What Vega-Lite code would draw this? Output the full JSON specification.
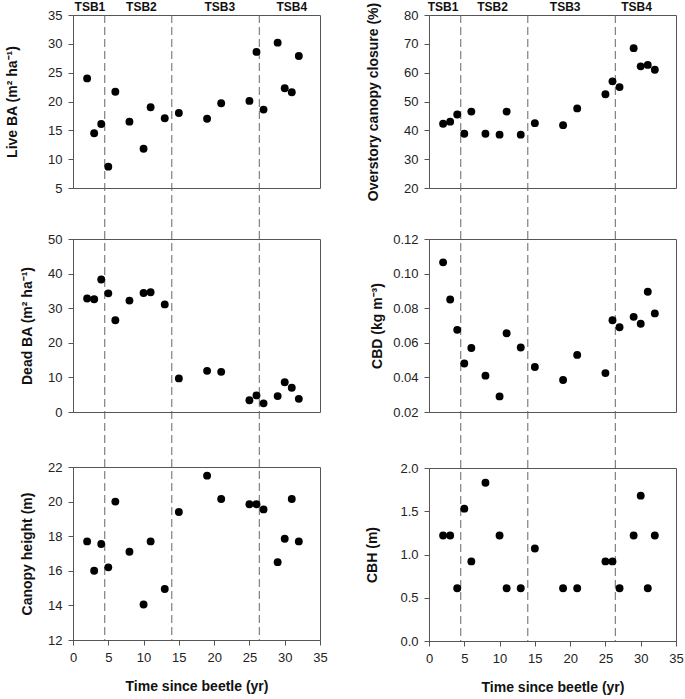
{
  "$schema": "https://vega.github.io/schema/vega-lite/v6.json",
  "background": "white",
  "padding": {"left": 5, "top": 0, "right": 5, "bottom": 5},
  "config": {
    "font": "Liberation Sans",
    "view": {"stroke": "#555", "strokeWidth": 1},
    "axis": {"labelFont": "Liberation Sans", "labelFontSize": 13, "labelColor": "#222", "titleFont": "Liberation Sans", "titleFontSize": 14, "titleFontWeight": "bold", "titleColor": "#111", "domainColor": "#555", "tickColor": "#555", "tickSize": 5, "grid": false, "labelPadding": 6, "labelFlush": false, "labelOverlap": false},
    "point": {"filled": true, "color": "black", "size": 62, "opacity": 1},
    "rule": {"strokeDash": [8, 4], "color": "#666", "strokeWidth": 1}
  },
  "datasets": {
    "d": [
      {"t": 2, "live": 24.0, "closure": 42.3, "dead": 32.8, "cbd": 0.1065, "height": 17.7, "cbh": 1.22},
      {"t": 3, "live": 14.5, "closure": 43.0, "dead": 32.6, "cbd": 0.085, "height": 16.0, "cbh": 1.22},
      {"t": 4, "live": 16.1, "closure": 45.5, "dead": 38.3, "cbd": 0.0675, "height": 17.55, "cbh": 0.61},
      {"t": 5, "live": 8.7, "closure": 38.8, "dead": 34.3, "cbd": 0.048, "height": 16.2, "cbh": 1.53},
      {"t": 6, "live": 21.7, "closure": 46.5, "dead": 26.5, "cbd": 0.057, "height": 20.0, "cbh": 0.92},
      {"t": 8, "live": 16.5, "closure": 38.8, "dead": 32.2, "cbd": 0.041, "height": 17.1, "cbh": 1.83},
      {"t": 10, "live": 11.8, "closure": 38.5, "dead": 34.4, "cbd": 0.029, "height": 14.05, "cbh": 1.22},
      {"t": 11, "live": 19.0, "closure": 46.5, "dead": 34.6, "cbd": 0.0655, "height": 17.7, "cbh": 0.61},
      {"t": 13, "live": 17.1, "closure": 38.5, "dead": 31.1, "cbd": 0.0573, "height": 14.95, "cbh": 0.61},
      {"t": 15, "live": 18.0, "closure": 42.5, "dead": 9.7, "cbd": 0.046, "height": 19.4, "cbh": 1.07},
      {"t": 19, "live": 17.0, "closure": 41.8, "dead": 11.9, "cbd": 0.0385, "height": 21.5, "cbh": 0.61},
      {"t": 21, "live": 19.7, "closure": 47.6, "dead": 11.6, "cbd": 0.053, "height": 20.15, "cbh": 0.61},
      {"t": 25, "live": 20.1, "closure": 52.5, "dead": 3.4, "cbd": 0.0425, "height": 19.85, "cbh": 0.92},
      {"t": 26, "live": 28.6, "closure": 57.0, "dead": 4.8, "cbd": 0.073, "height": 19.85, "cbh": 0.92},
      {"t": 27, "live": 18.6, "closure": 55.0, "dead": 2.5, "cbd": 0.069, "height": 19.55, "cbh": 0.61},
      {"t": 29, "live": 30.2, "closure": 68.5, "dead": 4.6, "cbd": 0.075, "height": 16.5, "cbh": 1.22},
      {"t": 30, "live": 22.3, "closure": 62.2, "dead": 8.6, "cbd": 0.071, "height": 17.85, "cbh": 1.68},
      {"t": 31, "live": 21.6, "closure": 62.7, "dead": 7.0, "cbd": 0.0895, "height": 20.15, "cbh": 0.61},
      {"t": 32, "live": 27.9, "closure": 61.0, "dead": 3.8, "cbd": 0.077, "height": 17.7, "cbh": 1.22}
    ],
    "lines": [{"t": 4.5}, {"t": 14.0}, {"t": 26.4}],
    "tsbL": [{"t": 2.4, "label": "TSB1"}, {"t": 9.7, "label": "TSB2"}, {"t": 20.8, "label": "TSB3"}, {"t": 31.0, "label": "TSB4"}],
    "tsbR": [{"t": 2.0, "label": "TSB1"}, {"t": 9.0, "label": "TSB2"}, {"t": 19.3, "label": "TSB3"}, {"t": 29.4, "label": "TSB4"}]
  },
  "spacing": 37,
  "hconcat": [
    {
      "spacing": 0,
      "vconcat": [
        {
          "width": 247, "height": 173,
          "encoding": {"x": {"field": "t", "type": "quantitative", "scale": {"domain": [0, 35], "nice": false}, "axis": null}},
          "layer": [
            {"data": {"name": "lines"}, "mark": {"type": "rule", "clip": false}, "encoding": {"y": {"datum": 35, "type": "quantitative", "axis": {"values": [5, 10, 15, 20, 25, 30, 35], "labelOverlap": false, "title": "Live BA (m² ha⁻¹)", "titlePadding": 28}}, "y2": {"datum": -2.02}}},
            {"data": {"name": "tsbL"}, "mark": {"type": "text", "fontWeight": "bold", "fontSize": 12, "color": "#111", "font": "Liberation Sans", "baseline": "middle"}, "encoding": {"y": {"datum": 36.4, "type": "quantitative", "axis": {"values": [5, 10, 15, 20, 25, 30, 35], "labelOverlap": false, "title": "Live BA (m² ha⁻¹)", "titlePadding": 28}}, "text": {"field": "label"}}},
            {"data": {"name": "d"}, "mark": {"type": "point"}, "encoding": {"y": {"field": "live", "type": "quantitative", "scale": {"domain": [5, 35], "nice": false, "zero": false}, "axis": {"values": [5, 10, 15, 20, 25, 30, 35], "labelOverlap": false, "title": "Live BA (m² ha⁻¹)", "titlePadding": 28}}}}
          ]
        },
        {
          "width": 247, "height": 173,
          "encoding": {"x": {"field": "t", "type": "quantitative", "scale": {"domain": [0, 35], "nice": false}, "axis": null}},
          "layer": [
            {"data": {"name": "lines"}, "mark": {"type": "rule", "clip": false}, "encoding": {"y": {"datum": 52.31, "type": "quantitative", "axis": {"values": [0, 10, 20, 30, 40, 50], "labelOverlap": false, "title": "Dead BA (m² ha⁻¹)", "titlePadding": 13}}, "y2": {"datum": -13.0}}},
            {"data": {"name": "d"}, "mark": {"type": "point"}, "encoding": {"y": {"field": "dead", "type": "quantitative", "scale": {"domain": [0, 50], "nice": false}, "axis": {"values": [0, 10, 20, 30, 40, 50], "labelOverlap": false, "title": "Dead BA (m² ha⁻¹)", "titlePadding": 13}}}}
          ]
        },
        {
          "width": 247, "height": 173,
          "encoding": {"x": {"field": "t", "type": "quantitative", "scale": {"domain": [0, 35], "nice": false}, "axis": {"values": [0, 5, 10, 15, 20, 25, 30, 35], "labelOverlap": false, "title": "Time since beetle (yr)", "titlePadding": 15}}},
          "layer": [
            {"data": {"name": "lines"}, "mark": {"type": "rule", "clip": false}, "encoding": {"y": {"datum": 22.46, "type": "quantitative", "axis": {"values": [12, 14, 16, 18, 20, 22], "labelOverlap": false, "title": "Canopy height (m)", "titlePadding": 13}}, "y2": {"datum": 12}}},
            {"data": {"name": "d"}, "mark": {"type": "point"}, "encoding": {"y": {"field": "height", "type": "quantitative", "scale": {"domain": [12, 22], "nice": false, "zero": false}, "axis": {"values": [12, 14, 16, 18, 20, 22], "labelOverlap": false, "title": "Canopy height (m)", "titlePadding": 13}}}}
          ]
        }
      ]
    },
    {
      "spacing": 0,
      "vconcat": [
        {
          "width": 247, "height": 173,
          "encoding": {"x": {"field": "t", "type": "quantitative", "scale": {"domain": [0, 35], "nice": false}, "axis": null}},
          "layer": [
            {"data": {"name": "lines"}, "mark": {"type": "rule", "clip": false}, "encoding": {"y": {"datum": 80, "type": "quantitative", "axis": {"values": [20, 30, 40, 50, 60, 70, 80], "labelOverlap": false, "title": "Overstory canopy closure (%)", "titlePadding": 23}}, "y2": {"datum": 5.95}}},
            {"data": {"name": "tsbR"}, "mark": {"type": "text", "fontWeight": "bold", "fontSize": 12, "color": "#111", "font": "Liberation Sans", "baseline": "middle"}, "encoding": {"y": {"datum": 82.75, "type": "quantitative", "axis": {"values": [20, 30, 40, 50, 60, 70, 80], "labelOverlap": false, "title": "Overstory canopy closure (%)", "titlePadding": 23}}, "text": {"field": "label"}}},
            {"data": {"name": "d"}, "mark": {"type": "point"}, "encoding": {"y": {"field": "closure", "type": "quantitative", "scale": {"domain": [20, 80], "nice": false, "zero": false}, "axis": {"values": [20, 30, 40, 50, 60, 70, 80], "labelOverlap": false, "title": "Overstory canopy closure (%)", "titlePadding": 23}}}}
          ]
        },
        {
          "width": 247, "height": 173,
          "encoding": {"x": {"field": "t", "type": "quantitative", "scale": {"domain": [0, 35], "nice": false}, "axis": null}},
          "layer": [
            {"data": {"name": "lines"}, "mark": {"type": "rule", "clip": false}, "encoding": {"y": {"datum": 0.12462, "type": "quantitative", "axis": {"values": [0.02, 0.04, 0.06, 0.08, 0.1, 0.12], "labelOverlap": false, "format": ".2f", "title": "CBD (kg m⁻³)", "titlePadding": 8}}, "y2": {"datum": -0.006}}},
            {"data": {"name": "d"}, "mark": {"type": "point"}, "encoding": {"y": {"field": "cbd", "type": "quantitative", "scale": {"domain": [0.02, 0.12], "nice": false, "zero": false}, "axis": {"values": [0.02, 0.04, 0.06, 0.08, 0.1, 0.12], "labelOverlap": false, "format": ".2f", "title": "CBD (kg m⁻³)", "titlePadding": 8}}}}
          ]
        },
        {
          "width": 247, "height": 173,
          "encoding": {"x": {"field": "t", "type": "quantitative", "scale": {"domain": [0, 35], "nice": false}, "axis": {"values": [0, 5, 10, 15, 20, 25, 30, 35], "labelOverlap": false, "title": "Time since beetle (yr)", "titlePadding": 15}}},
          "layer": [
            {"data": {"name": "lines"}, "mark": {"type": "rule", "clip": false}, "encoding": {"y": {"datum": 2.0925, "type": "quantitative", "axis": {"values": [0, 0.5, 1, 1.5, 2], "labelOverlap": false, "format": ".1f", "title": "CBH (m)", "titlePadding": 20}}, "y2": {"datum": 0}}},
            {"data": {"name": "d"}, "mark": {"type": "point"}, "encoding": {"y": {"field": "cbh", "type": "quantitative", "scale": {"domain": [0, 2], "nice": false}, "axis": {"values": [0, 0.5, 1, 1.5, 2], "labelOverlap": false, "format": ".1f", "title": "CBH (m)", "titlePadding": 20}}}}
          ]
        }
      ]
    }
  ]
}
